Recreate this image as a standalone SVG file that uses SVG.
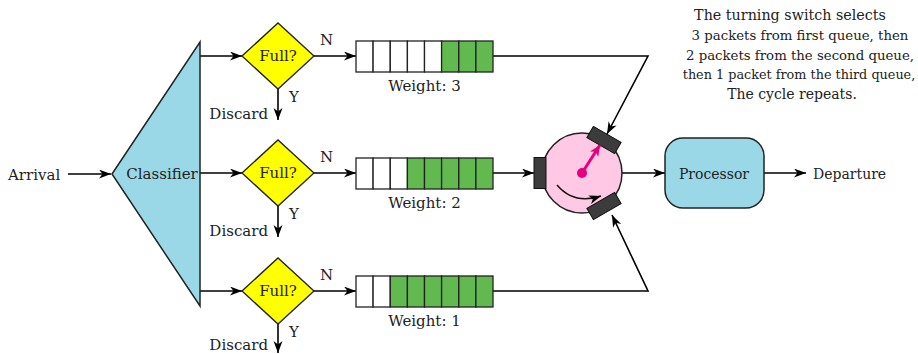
<svg xmlns="http://www.w3.org/2000/svg" width="918" height="354" viewBox="0 0 918 354">
<defs>
<style>
text{font-family:"DejaVu Serif","Liberation Serif",serif;font-size:15px;fill:#222}
.c{text-anchor:middle}
.e{text-anchor:end}
.sm{font-size:14px}
.ln{fill:none;stroke:#000;stroke-width:1.6}
.arr{marker-end:url(#ah)}
.dia{fill:#ffff00;stroke:#222;stroke-width:1.3}
.w{fill:#fff;stroke:#222;stroke-width:1.3}
.g{fill:#62b94f;stroke:#222;stroke-width:1.3}
.blue{fill:#9ad8e8;stroke:#222;stroke-width:1.5}
.dark{fill:#3c3c3c;stroke:#111;stroke-width:1}
</style>
<marker id="ah" markerUnits="userSpaceOnUse" markerWidth="13" markerHeight="10" refX="12" refY="4.5" orient="auto">
<path d="M0,0 L12,4.5 L0,9 L3.5,4.5 z" fill="#000"/>
</marker>
<marker id="ahp" markerUnits="userSpaceOnUse" markerWidth="13" markerHeight="10" refX="11" refY="5" orient="auto">
<path d="M0,0 L11,5 L0,10 L3,5 z" fill="#e6007e"/>
</marker>
</defs>
<rect width="918" height="354" fill="#fff"/>

<g id="connectors">
<path class="ln arr" d="M68,174 H111"/>
<path class="ln arr" d="M200,56 H242"/>
<path class="ln arr" d="M200,173 H242"/>
<path class="ln arr" d="M200,291 H242"/>
<path class="ln arr" d="M314,56 H356"/>
<path class="ln arr" d="M314,173 H356"/>
<path class="ln arr" d="M314,291 H356"/>
<path class="ln arr" d="M278,89 V120"/>
<path class="ln arr" d="M278,206 V237"/>
<path class="ln arr" d="M278,324 V353"/>
<path class="ln arr" d="M493,56 H648 L607,134"/>
<path class="ln arr" d="M493,173 H534"/>
<path class="ln arr" d="M493,291 H648 L612,215"/>
<path class="ln arr" d="M622,173 H665"/>
<path class="ln arr" d="M764,173 H806"/>
</g>

<g id="arrival"><text x="8" y="180">Arrival</text></g>

<g id="classifier">
<polygon class="blue" points="112,174 200,42 200,306"/>
<text class="c" x="162" y="179">Classifier</text>
</g>

<g id="check1">
<polygon class="dia" points="242,56 278,23 314,56 278,89"/>
<text class="c" x="278" y="61">Full?</text>
<text x="320" y="45">N</text>
<text x="289" y="102">Y</text>
<text class="e" x="268" y="119">Discard</text>
</g>
<g id="check2">
<polygon class="dia" points="242,173 278,140 314,173 278,206"/>
<text class="c" x="278" y="178">Full?</text>
<text x="320" y="162">N</text>
<text x="289" y="219">Y</text>
<text class="e" x="268" y="236">Discard</text>
</g>
<g id="check3">
<polygon class="dia" points="242,291 278,258 314,291 278,324"/>
<text class="c" x="278" y="296">Full?</text>
<text x="320" y="280">N</text>
<text x="289" y="337">Y</text>
<text class="e" x="268" y="350">Discard</text>
</g>

<g id="queue1">
<rect class="w" x="356" y="41" width="17.1" height="31"/>
<rect class="w" x="373.1" y="41" width="17.1" height="31"/>
<rect class="w" x="390.3" y="41" width="17.1" height="31"/>
<rect class="w" x="407.4" y="41" width="17.1" height="31"/>
<rect class="w" x="424.5" y="41" width="17.1" height="31"/>
<rect class="g" x="441.6" y="41" width="17.1" height="31"/>
<rect class="g" x="458.8" y="41" width="17.1" height="31"/>
<rect class="g" x="475.9" y="41" width="17.1" height="31"/>
<text class="c" x="424.5" y="91">Weight: 3</text>
</g>
<g id="queue2">
<rect class="w" x="356" y="158" width="17.1" height="31"/>
<rect class="w" x="373.1" y="158" width="17.1" height="31"/>
<rect class="w" x="390.3" y="158" width="17.1" height="31"/>
<rect class="g" x="407.4" y="158" width="17.1" height="31"/>
<rect class="g" x="424.5" y="158" width="17.1" height="31"/>
<rect class="g" x="441.6" y="158" width="17.1" height="31"/>
<rect class="g" x="458.8" y="158" width="17.1" height="31"/>
<rect class="g" x="475.9" y="158" width="17.1" height="31"/>
<text class="c" x="424.5" y="208">Weight: 2</text>
</g>
<g id="queue3">
<rect class="w" x="356" y="276" width="17.1" height="31"/>
<rect class="w" x="373.1" y="276" width="17.1" height="31"/>
<rect class="g" x="390.3" y="276" width="17.1" height="31"/>
<rect class="g" x="407.4" y="276" width="17.1" height="31"/>
<rect class="g" x="424.5" y="276" width="17.1" height="31"/>
<rect class="g" x="441.6" y="276" width="17.1" height="31"/>
<rect class="g" x="458.8" y="276" width="17.1" height="31"/>
<rect class="g" x="475.9" y="276" width="17.1" height="31"/>
<text class="c" x="424.5" y="326">Weight: 1</text>
</g>

<g id="switch">
<circle cx="582" cy="173" r="40" fill="#ffc8e4" stroke="#222" stroke-width="1.5"/>
<rect class="dark" x="534" y="157.5" width="12" height="31"/>
<rect class="dark" x="-16" y="-6.5" width="32" height="13" transform="translate(604,140) rotate(30)"/>
<rect class="dark" x="-16" y="-6.5" width="32" height="13" transform="translate(604,206) rotate(-30)"/>
<path d="M557,185 Q574,205 601,196" fill="none" stroke="#111" stroke-width="1.5" marker-end="url(#ah)"/>
<path d="M582,173 L600,145" fill="none" stroke="#e6007e" stroke-width="3" marker-end="url(#ahp)"/>
<circle cx="582" cy="173" r="5" fill="#e6007e"/>
</g>

<g id="processor">
<rect class="blue" x="665" y="138" width="99" height="70" rx="18"/>
<text class="c sm" x="714" y="179">Processor</text>
</g>

<g id="departure"><text class="sm" x="813" y="179">Departure</text></g>

<g id="note">
<text class="c" x="790" y="20" style="font-size:14.3px">The turning switch selects</text>
<text class="c" x="800" y="40" style="font-size:13.3px">3 packets from first queue, then</text>
<text class="c" x="800" y="59.5" style="font-size:13.3px">2 packets from the second queue,</text>
<text class="c" x="799" y="79" style="font-size:12.8px">then 1 packet from the third queue,</text>
<text class="c" x="792" y="98.5" style="font-size:14px">The cycle repeats.</text>
</g>
</svg>
